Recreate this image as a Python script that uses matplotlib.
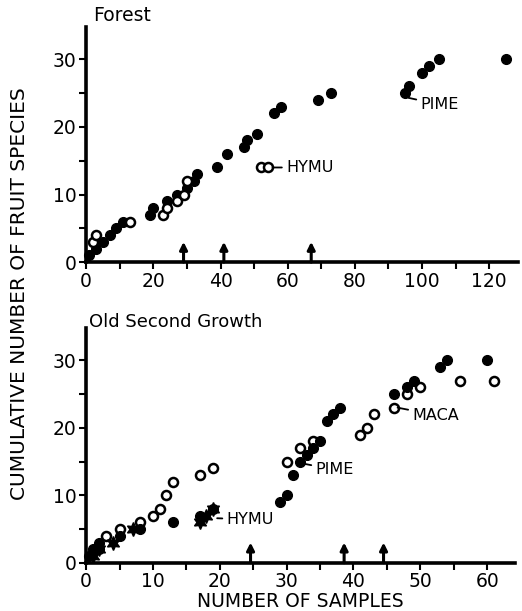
import numpy as np
import matplotlib.pyplot as plt
from matplotlib.ticker import MultipleLocator

# Forest
f_fill_x = [1, 3, 5, 7, 9, 11, 19, 20, 24, 27, 30, 32, 33, 39, 42, 47, 48, 51, 56, 58, 69, 73, 95, 96, 100, 102, 105, 125]
f_fill_y = [1, 2, 3, 4, 5, 6, 7, 8, 9, 10, 11, 12, 13, 14, 16, 17, 18, 19, 22, 23, 24, 25, 25, 26, 28, 29, 30, 30]
f_open_x = [2, 3, 13, 23, 24, 27, 29, 30, 52, 54]
f_open_y = [3, 4, 6, 7, 8, 9, 10, 12, 14, 14]
f_arrows = [29, 41, 67]

# Old second growth
s_fill_x = [0.5, 1, 2, 2, 5, 8, 13, 17, 19, 29, 30, 31, 32, 33, 34, 35, 36, 37, 38, 46, 48, 49, 53, 54, 60]
s_fill_y = [1, 2, 2, 3, 4, 5, 6, 7, 8, 9, 10, 13, 15, 16, 17, 18, 21, 22, 23, 25, 26, 27, 29, 30, 30]
s_open_x = [3, 5, 8, 10, 11, 12, 13, 17, 19, 30, 32, 34, 41, 42, 43, 46, 48, 50, 56, 61]
s_open_y = [4, 5, 6, 7, 8, 10, 12, 13, 14, 15, 17, 18, 19, 20, 22, 23, 25, 26, 27, 27]
s_star_x = [1, 2, 4, 7, 17, 18, 19]
s_star_y = [1, 2, 3, 5, 6, 7, 8]
s_arrows = [24.6, 38.6, 44.5]

plt.rcParams['font.family'] = 'DejaVu Sans'

fig = plt.figure(figsize=(5.22, 6.11), dpi=100)
ax1 = fig.add_axes([0.165, 0.571, 0.827, 0.385])
ax2 = fig.add_axes([0.165, 0.079, 0.822, 0.384])


def style(ax, xmax, xmaj, xmin):
    ax.set_ylim(0, 34.8)
    ax.set_xlim(0, xmax)
    for s in ['top', 'right']:
        ax.spines[s].set_visible(False)
    for s in ['left', 'bottom']:
        ax.spines[s].set_linewidth(2.6)
    ax.xaxis.set_major_locator(MultipleLocator(xmaj))
    ax.xaxis.set_minor_locator(MultipleLocator(xmin))
    ax.yaxis.set_major_locator(MultipleLocator(10))
    ax.yaxis.set_minor_locator(MultipleLocator(5))
    ax.tick_params(which='both', direction='out', width=1.5, labelsize=13.5, pad=2)
    ax.tick_params(which='major', length=5)
    ax.tick_params(which='minor', length=5)
    ax.set_yticks([0, 10, 20, 30])


def arrows(ax, xs):
    for x in xs:
        ax.annotate('', xy=(x, 3.0), xytext=(x, 0),
                    arrowprops=dict(arrowstyle='-|>', color='black', lw=2.2,
                                    mutation_scale=11, shrinkA=0, shrinkB=0),
                    annotation_clip=False)


mk = dict(linestyle='none', clip_on=False)
lab = dict(fontsize=11.5, va='center')
line = dict(arrowstyle='-', color='black', lw=1.3, shrinkA=1, shrinkB=0)

style(ax1, 128.5, 20, 10)
ax1.plot(f_fill_x, f_fill_y, 'o', color='black', ms=7, **mk)
ax1.plot(f_open_x, f_open_y, 'o', mfc='white', mec='black', mew=1.8, ms=6.5, **mk)
arrows(ax1, f_arrows)
ax1.annotate('HYMU', xy=(55.5, 14), xytext=(59.5, 14), arrowprops=line, **lab)
ax1.annotate('PIME', xy=(96, 24.3), xytext=(99.5, 23.3), arrowprops=line, **lab)

style(ax2, 64.2, 10, 5)
ax2.plot(s_open_x, s_open_y, 'o', mfc='white', mec='black', mew=1.8, ms=6.5, **mk)
ax2.plot(s_fill_x, s_fill_y, 'o', color='black', ms=7, **mk)
ax2.plot(s_star_x, s_star_y, marker=(6, 1, 0), color='black', ms=10, **mk)
arrows(ax2, s_arrows)
ax2.annotate('HYMU', xy=(19.6, 6.6), xytext=(21.0, 6.4), arrowprops=line, **lab)
ax2.annotate('PIME', xy=(32.5, 14.7), xytext=(34.3, 13.8), arrowprops=line, **lab)
ax2.annotate('MACA', xy=(46.6, 23), xytext=(48.8, 21.9), arrowprops=line, **lab)
ax2.set_xlabel('NUMBER OF SAMPLES', fontsize=13.5, labelpad=0.5)

fig.text(0.178, 0.975, 'Forest', fontsize=13.5, va='center', ha='left')
fig.text(0.170, 0.473, 'Old Second Growth', fontsize=13, va='center', ha='left')
fig.text(0.038, 0.52, 'CUMULATIVE NUMBER OF FRUIT SPECIES', fontsize=14.5,
         rotation=90, va='center', ha='center')

fig.savefig('out.png', dpi=100)
